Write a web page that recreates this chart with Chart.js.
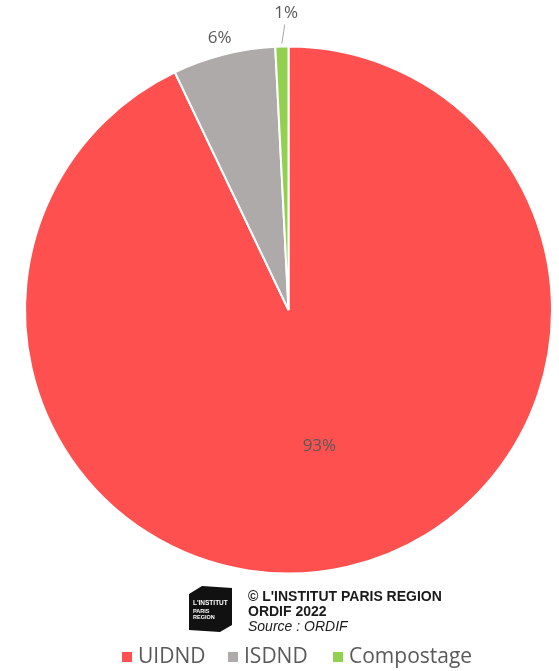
<!DOCTYPE html>
<html>
<head>
<meta charset="utf-8">
<script src="https://cdn.jsdelivr.net/npm/chart.js@4/dist/chart.umd.min.js"></script>
<style>
  html, body { margin: 0; padding: 0; background: #ffffff; }
  #wrap { width: 559px; height: 671px; position: relative; }
</style>
</head>
<body>
<div id="wrap"><canvas id="myChart" width="559" height="671"></canvas></div>
<script>
// data
const categories = ['UIDND', 'ISDND', 'Compostage'];
const values = [92.9, 6.3, 0.8];
const labelsText = ['93%', '6%', '1%'];
const colors = ['#FF5050', '#AEAAAA', '#92D050'];

const textColor = '#595959';

// labels on / around the slices
const sliceLabels = {
    id: 'sliceLabels',
    afterDatasetsDraw(chart) {
        const ctx = chart.ctx;
        const meta = chart.getDatasetMeta(0);
        ctx.save();
        ctx.fillStyle = textColor;
        ctx.font = '17px "Open Sans", sans-serif';
        ctx.textAlign = 'center';
        ctx.textBaseline = 'middle';
        meta.data.forEach((arc, i) => {
            const p = arc.getProps(['x', 'y', 'startAngle', 'endAngle', 'outerRadius'], true);
            const mid = (p.startAngle + p.endAngle) / 2;
            let r;
            if (i === 0) {
                r = p.outerRadius * 0.53;
            } else if (i === 1) {
                r = p.outerRadius + 17;
            } else {
                r = p.outerRadius + 33;
                // leader line
                ctx.strokeStyle = '#A6A6A6';
                ctx.lineWidth = 1;
                ctx.beginPath();
                ctx.moveTo(p.x + Math.cos(mid) * (p.outerRadius + 3), p.y + Math.sin(mid) * (p.outerRadius + 3));
                ctx.lineTo(p.x + Math.cos(mid + 0.012) * (p.outerRadius + 22), p.y + Math.sin(mid + 0.012) * (p.outerRadius + 22));
                ctx.stroke();
            }
            let lx = p.x + Math.cos(mid) * r;
            let ly = p.y + Math.sin(mid) * r;
            if (i === 2) lx += 5;
            ctx.fillText(labelsText[i], lx, ly);
        });
        ctx.restore();
    }
};

// logo, credits and legend under the pie
const footer = {
    id: 'footer',
    afterDraw(chart) {
        const ctx = chart.ctx;
        ctx.save();

        // logo block
        ctx.fillStyle = '#111111';
        ctx.beginPath();
        ctx.moveTo(189, 594);
        ctx.lineTo(202, 586);
        ctx.lineTo(232, 588);
        ctx.lineTo(232, 625);
        ctx.lineTo(220, 632);
        ctx.lineTo(189, 630);
        ctx.closePath();
        ctx.fill();
        ctx.fillStyle = '#ffffff';
        ctx.font = 'bold 6.5px "Liberation Sans", Arial, sans-serif';
        ctx.textAlign = 'left';
        ctx.textBaseline = 'alphabetic';
        ctx.fillText("L'INSTITUT", 193, 605);
        ctx.font = 'bold 5.5px "Liberation Sans", Arial, sans-serif';
        ctx.fillText('PARIS', 193, 613);
        ctx.fillText('REGION', 193, 619);

        // credits
        ctx.fillStyle = '#1a1a1a';
        ctx.font = 'bold 14px "Liberation Sans", Arial, sans-serif';
        ctx.fillText("\u00A9 L'INSTITUT PARIS REGION", 248, 601);
        ctx.fillText('ORDIF 2022', 248, 616);
        ctx.font = 'italic 14px "Liberation Sans", Arial, sans-serif';
        ctx.fillText('Source : ORDIF', 248, 631);

        // legend
        ctx.font = '21px "Open Sans", sans-serif';
        ctx.textBaseline = 'middle';
        const xs = [122, 228, 333];
        categories.forEach((c, i) => {
            ctx.fillStyle = colors[i];
            ctx.fillRect(xs[i], 652, 10, 10);
            ctx.fillStyle = textColor;
            ctx.fillText(c, xs[i] + 16, 657);
        });
        ctx.restore();
    }
};

let ctx = document.getElementById('myChart');

let myChart = new Chart(ctx, {
    type: 'pie',
    data: {
        labels: categories,
        datasets: [{
            data: values,
            backgroundColor: colors,
            borderColor: '#ffffff',
            borderWidth: 2
        }]
    },
    options: {
        responsive: false,
        animation: false,
        layout: {
            padding: { left: 24, right: 6, top: 45, bottom: 96 }
        },
        plugins: {
            legend: { display: false },
            tooltip: { enabled: false }
        }
    },
    plugins: [sliceLabels, footer]
});
</script>
</body>
</html>
